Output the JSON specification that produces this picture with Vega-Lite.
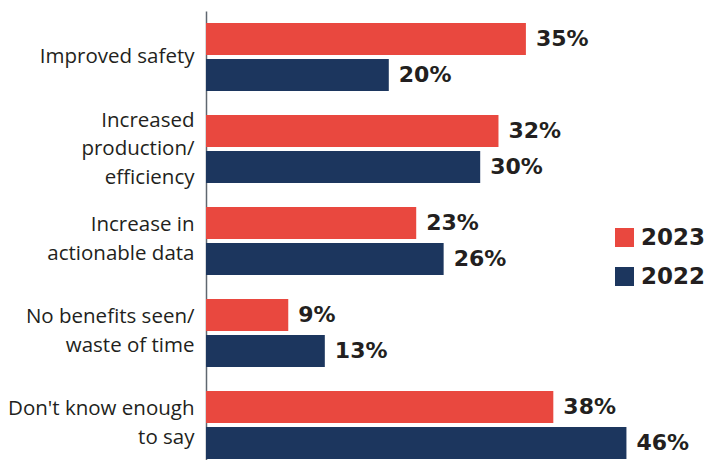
{
  "$schema": "https://vega.github.io/schema/vega-lite/v6.json",
  "autosize": "none",
  "width": 457,
  "height": 460,
  "padding": {"left": 206, "top": 11, "right": 48, "bottom": 0},
  "background": "white",
  "config": {"view": {"stroke": null}},
  "data": {"values": [
    {"category": "Improved safety", "year": "2023", "value": 0.35},
    {"category": "Improved safety", "year": "2022", "value": 0.20},
    {"category": "Increased|production/|efficiency", "year": "2023", "value": 0.32},
    {"category": "Increased|production/|efficiency", "year": "2022", "value": 0.30},
    {"category": "Increase in|actionable data", "year": "2023", "value": 0.23},
    {"category": "Increase in|actionable data", "year": "2022", "value": 0.26},
    {"category": "No benefits seen/|waste of time", "year": "2023", "value": 0.09},
    {"category": "No benefits seen/|waste of time", "year": "2022", "value": 0.13},
    {"category": "Don't know enough|to say", "year": "2023", "value": 0.38},
    {"category": "Don't know enough|to say", "year": "2022", "value": 0.46}
  ]},
  "encoding": {
    "y": {
      "field": "category", "type": "nominal", "sort": null,
      "scale": {"paddingInner": 0.26, "paddingOuter": 0.13},
      "axis": {
        "title": null, "ticks": false, "grid": false,
        "domain": true, "domainColor": "#5f6770", "domainWidth": 1.5,
        "labelExpr": "split(datum.label, '|')",
        "labelFont": "Open Sans", "labelFontSize": 20.5, "labelColor": "#231F20",
        "labelLineHeight": 28.5, "labelPadding": 12, "labelLimit": 250,
        "labelOffset": {
          "condition": [
            {"test": "length(split(datum.value, '|')) == 3", "value": -28.5},
            {"test": "length(split(datum.value, '|')) == 2", "value": -16}
          ],
          "value": 0
        }
      }
    },
    "yOffset": {"field": "year", "type": "nominal", "scale": {"domain": ["2023", "2022"], "paddingInner": 0.11}},
    "x": {"field": "value", "type": "quantitative", "scale": {"domain": [0, 0.5]}, "axis": null}
  },
  "layer": [
    {
      "mark": {"type": "bar"},
      "encoding": {
        "color": {
          "field": "year", "type": "nominal",
          "scale": {"domain": ["2023", "2022"], "range": ["#E9483F", "#1C365E"]},
          "legend": {
            "title": null, "orient": "none", "legendX": 407, "legendY": 215,
            "symbolType": "square", "symbolSize": 361, "symbolStrokeWidth": 0,
            "labelFont": "DejaVu Sans", "labelFontWeight": "bold", "labelFontSize": 23,
            "labelColor": "#231F20", "rowPadding": 15, "labelOffset": 5
          }
        }
      }
    },
    {
      "mark": {"type": "text", "align": "left", "baseline": "middle", "dx": 10, "font": "DejaVu Sans", "fontWeight": "bold", "fontSize": 22, "color": "#231F20"},
      "encoding": {
        "text": {"field": "value", "type": "quantitative", "format": ".0%"}
      }
    }
  ]
}
